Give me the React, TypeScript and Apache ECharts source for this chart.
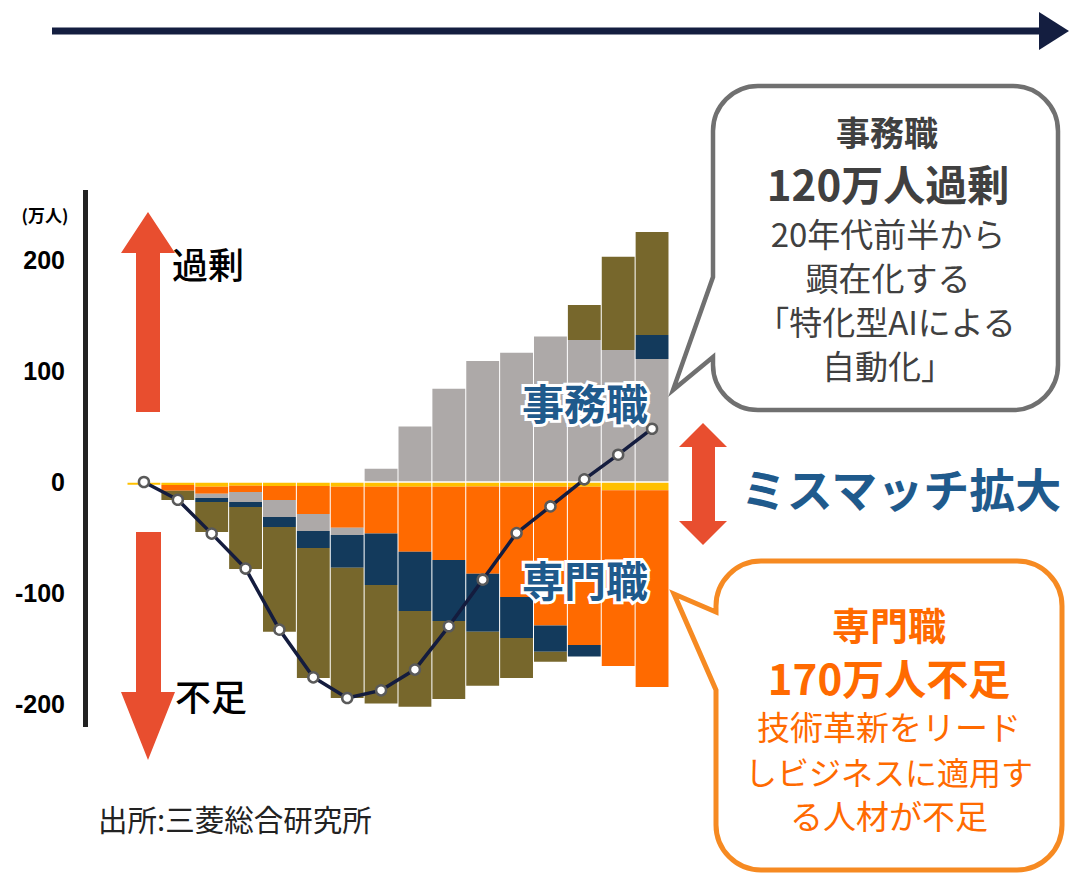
import React, { useEffect, useRef } from 'react';
import * as echarts from 'echarts';

// 2015〜2030年 (16 periods)
const categories = ['2015','2016','2017','2018','2019','2020','2021','2022','2023','2024','2025','2026','2027','2028','2029','2030'];

// 万人
const serviceValues = [-2.5, -2.7, -4.2, -3.3, -3.6, -3.6, -4.2, -4.2, -4.2, -4.2, -4, -4.2, -4.2, -4.2, -7.5, -7.5]; // yellow
const professionalValues = [0, -5.1, -6.3, -5.7, -12.6, -25.2, -37, -42.3, -58.6, -66, -78.7, -99.4, -125, -142.6, -158.3, -177.2]; // 専門職 orange
const clericalValues = [0, 0, -3.9, -9, -15.3, -15.3, -6.6, 12, 50, 84, 109, 116.5, 131, 128, 119, 110.8]; // 事務職 gray
const salesValues = [0, 0, -3.6, -4.5, -9, -15.3, -29.4, -46.2, -53.4, -55, -52.3, -37, -23.7, -10.5, 0, 21.6]; // navy
const productionValues = [0, -8.4, -27, -55.9, -94.5, -117.2, -117.4, -106.9, -86.2, -70.3, -48.6, -36, -9, 31.5, 84, 92.8]; // olive
const totalValues = [0, -16, -46.5, -78, -133, -176, -194.6, -187.7, -169, -130, -88, -46, -22, 2.4, 24.6, 48];

const yTickLabels = ['-200', '-100', '0', '100', '200'];

const JP = '"Noto Sans CJK JP", "Noto Sans", sans-serif';

const bubbleGrayPath =
  'M 758 86 H 1013 A 45 45 0 0 1 1058 131 V 365 A 45 45 0 0 1 1013 410 H 758 A 45 45 0 0 1 713 365 V 357 L 673 390 L 713 277 V 131 A 45 45 0 0 1 758 86 Z';
const bubbleOrangePath =
  'M 761 561 H 1017 A 45 45 0 0 1 1062 606 V 825 A 45 45 0 0 1 1017 870 H 761 A 45 45 0 0 1 716 825 V 690 L 674 594 L 716 612 V 606 A 45 45 0 0 1 761 561 Z';

echarts.graphic.registerShape('bubbleGray', echarts.graphic.extendPath(bubbleGrayPath, {}));
echarts.graphic.registerShape('bubbleOrange', echarts.graphic.extendPath(bubbleOrangePath, {}));

function txt(text: string, x: number, y: number, font: string, fill: string, extra: any = {}, align: string = 'center') {
  return {
    type: 'text',
    x,
    y,
    z: 100,
    style: {
      legacy: false,
      text,
      font,
      fill,
      align,
      verticalAlign: 'middle',
      textAlign: align,
      textVerticalAlign: 'middle',
      ...extra,
    },
  };
}

export default function App() {
  const ref = useRef<HTMLDivElement>(null);

  useEffect(() => {
    const chart = echarts.init(ref.current as HTMLDivElement, null, { renderer: 'svg' });

    const barBase = {
      type: 'bar',
      stack: 'total',
      barCategoryGap: '3%',
      z: 2,
    };

    const halo = {
      stroke: '#ffffff',
      lineWidth: 6,
      shadowBlur: 7,
      shadowColor: 'rgba(0,0,0,0.5)',
    };

    const option: any = {
      animation: false,
      backgroundColor: '#ffffff',
      grid: { left: 127, right: 400, top: 149, bottom: 58, containLabel: false },
      xAxis: {
        type: 'category',
        data: categories,
        z: 5,
        axisLine: { show: true, onZero: true, lineStyle: { color: '#ffffff', width: 1.5 } },
        axisTick: { show: false },
        axisLabel: { show: false },
        splitLine: { show: false },
      },
      yAxis: {
        type: 'value',
        min: -300,
        max: 300,
        interval: 100,
        axisLine: { show: false },
        axisTick: { show: false },
        splitLine: { show: false },
        axisLabel: {
          margin: 62,
          color: '#000000',
          fontWeight: 'bold',
          fontSize: 25,
          fontFamily: '"Liberation Sans", Arial, sans-serif',
          formatter: (v: number) => (yTickLabels.indexOf(String(v)) >= 0 ? String(v) : ''),
        },
      },
      series: [
        { ...barBase, name: 'サービス職', data: serviceValues, itemStyle: { color: '#FFC000' } },
        { ...barBase, name: '専門職', data: professionalValues, itemStyle: { color: '#FF6A00' } },
        { ...barBase, name: '事務職', data: clericalValues, itemStyle: { color: '#ADA9A8' } },
        { ...barBase, name: '販売職', data: salesValues, itemStyle: { color: '#133A5C' } },
        { ...barBase, name: '生産職', data: productionValues, itemStyle: { color: '#77672C' } },
        {
          type: 'line',
          name: '合計',
          data: totalValues,
          z: 10,
          symbol: 'circle',
          symbolSize: 10,
          lineStyle: { color: '#141C3E', width: 3.5 },
          itemStyle: { color: '#ffffff', borderColor: '#5a5a5a', borderWidth: 2.5 },
        },
      ],
      graphic: [
        // top time arrow
        { type: 'rect', z: 100, shape: { x: 52, y: 27.5, width: 990, height: 7 }, style: { fill: '#141E40' } },
        { type: 'polygon', z: 100, shape: { points: [[1039, 12], [1069, 31], [1039, 50]] }, style: { fill: '#141E40' } },
        // y axis bar
        { type: 'rect', z: 100, shape: { x: 83, y: 190, width: 5, height: 537 }, style: { fill: '#222222' } },
        txt('(万人)', 45, 214, 'bold 17px ' + JP, '#000000'),
        // up arrow 過剰
        {
          type: 'polygon', z: 100,
          shape: { points: [[148, 212], [175, 253], [160, 253], [160, 412], [136, 412], [136, 253], [121, 253]] },
          style: { fill: '#E84E2F' },
        },
        txt('過剰', 208, 263, '500 36px ' + JP, '#000000'),
        // down arrow 不足
        {
          type: 'polygon', z: 100,
          shape: { points: [[136, 532], [161, 532], [161, 692], [175, 692], [148, 760], [121, 692], [136, 692]] },
          style: { fill: '#E84E2F' },
        },
        txt('不足', 211, 695, '500 36px ' + JP, '#000000'),
        // in-chart labels
        txt('事務職', 585, 401, 'bold 42px ' + JP, '#1F5A8C', halo),
        txt('専門職', 585, 578, 'bold 42px ' + JP, '#1F5A8C', halo),
        // mismatch arrow
        {
          type: 'polygon', z: 100,
          shape: {
            points: [[703, 423], [727, 447], [715, 447], [715, 521], [727, 521], [703, 545], [679, 521], [692, 521], [692, 447], [679, 447]],
          },
          style: { fill: '#E84E2F' },
        },
        txt('ミスマッチ拡大', 901, 487, 'bold 46px ' + JP, '#1F5A8C'),
        // gray callout
        { type: 'bubbleGray', z: 90, x: 0, y: 0, scaleX: 1, scaleY: 1, style: { fill: '#ffffff', stroke: '#707070', lineWidth: 4.5 } },
        txt('事務職', 887, 131, 'bold 34px ' + JP, '#404040'),
        txt('120万人過剰', 888, 182, 'bold 42px ' + JP, '#404040'),
        txt('20年代前半から', 888, 233, '33px ' + JP, '#404040'),
        txt('顕在化する', 888, 277, '33px ' + JP, '#404040'),
        txt('「特化型AIによる', 886, 321, '33px ' + JP, '#404040'),
        txt('自動化」', 888, 365, '33px ' + JP, '#404040'),
        // orange callout
        { type: 'bubbleOrange', z: 90, x: 0, y: 0, scaleX: 1, scaleY: 1, style: { fill: '#ffffff', stroke: '#F68A22', lineWidth: 5 } },
        txt('専門職', 889, 623, 'bold 38px ' + JP, '#FF6A00'),
        txt('170万人不足', 889, 676, 'bold 42px ' + JP, '#FF6A00'),
        txt('技術革新をリード', 889, 726, '33px ' + JP, '#FF6A00'),
        txt('しビジネスに適用す', 889, 771, '32px ' + JP, '#FF6A00'),
        txt('る人材が不足', 889, 815, '33px ' + JP, '#FF6A00'),
        // source
        txt('出所:三菱総合研究所', 98, 818, '29.5px ' + JP, '#222222', {}, 'left'),
      ],
    };

    chart.setOption(option);
    return () => {
      chart.dispose();
    };
  }, []);

  return (
    <div
      ref={ref}
      style={{ position: 'fixed', left: 0, top: 0, width: 1069, height: 873, background: '#ffffff' }}
    />
  );
}
